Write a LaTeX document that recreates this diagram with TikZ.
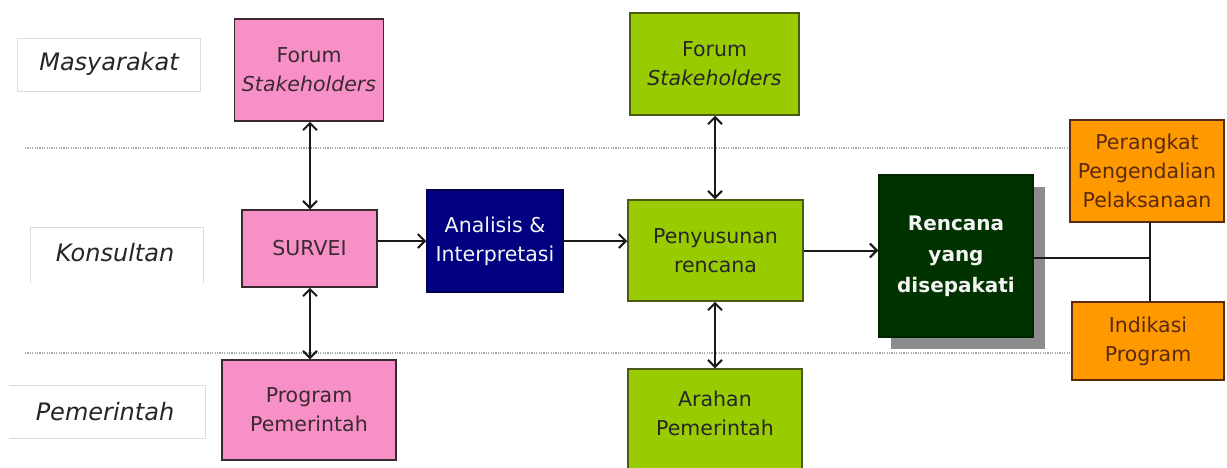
\documentclass[tikz,border=0pt]{standalone}
\usepackage{fontspec}
\setmainfont{DejaVu Sans}
\usetikzlibrary{arrows.meta}
\definecolor{pinkf}{HTML}{F890C8}
\definecolor{pinkd}{HTML}{3A2A30}
\definecolor{greenf}{HTML}{99CC00}
\definecolor{greend}{HTML}{4A5A10}
\definecolor{navyf}{HTML}{000080}
\definecolor{dkgreen}{HTML}{003300}
\definecolor{orangef}{HTML}{FF9900}
\definecolor{oranged}{HTML}{5A2A10}
\definecolor{lblline}{HTML}{DCDCDC}
\definecolor{dotline}{HTML}{A8A8A8}
\definecolor{arrowc}{HTML}{1A1A1A}
\begin{document}
\begin{tikzpicture}[x=1pt,y=-1pt,
  box/.style={draw, line width=1.5pt, align=center, inner sep=0pt,
    font=\fontsize{20.5}{29}\selectfont},
  pinkbox/.style={box, fill=pinkf, draw=pinkd, text=pinkd},
  greenbox/.style={box, fill=greenf, draw=greend, text=black!85},
  navybox/.style={box, fill=navyf, draw=navyf!60!black, text=white!92!gray},
  darkbox/.style={box, fill=dkgreen, draw=dkgreen!70!black, text=white!92!gray,
    font=\fontsize{20}{31}\selectfont\bfseries},
  orangebox/.style={box, fill=orangef, draw=oranged, text=oranged},
  lbl/.style={font=\fontsize{24}{28}\selectfont\itshape, text=black!85},
  lblline/.style={draw=lblline, line width=1pt},
  sep/.style={draw=dotline, line width=1.2pt, dash pattern=on 1.2pt off 1.2pt},
  conn/.style={draw=arrowc, line width=2pt},
  tip/.tip={Straight Barb[length=7pt,width=14pt,line width=2pt]},
  biarrow/.style={conn, tip-tip},
  arrow/.style={conn, -tip}
]
\useasboundingbox (0,0) rectangle (1227,467);
\fill[white] (0,0) rectangle (1227,467);

% separators
\draw[sep] (25,148) -- (1070,148);
\draw[sep] (25,353) -- (1070,353);

% lane labels
\draw[lblline] (17,38) rectangle (200,91);
\node[lbl] (lmas) at (109,64) {Masyarakat};
\draw[lblline] (30,283) -- (30,227) -- (203,227) -- (203,283);
\node[lbl] (lkon) at (115,253) {Konsultan};
\draw[lblline] (9,385) -- (205,385) -- (205,438) -- (9,438);
\node[lbl] (lpem) at (105,412) {Pemerintah};

% pink column
\node[pinkbox, minimum width=149, minimum height=102] (pforum) at (309,70) {Forum\\\textit{Stakeholders}};
\node[pinkbox, minimum width=135, minimum height=77] (survei) at (309.5,248.5) {SURVEI};
\node[pinkbox, minimum width=174, minimum height=100] (pprog) at (309,410) {Program\\Pemerintah};

% analysis
\node[navybox, minimum width=136, minimum height=102] (analisis) at (495,241) {Analisis \&\\Interpretasi};

% green column
\node[greenbox, minimum width=169, minimum height=102] (gforum) at (714.5,64) {Forum\\\textit{Stakeholders}};
\node[greenbox, minimum width=175, minimum height=101] (penyusun) at (715.5,250.5) {Penyusunan\\rencana};
\node[greenbox, minimum width=174, minimum height=101] (arahan) at (715,419.5) {};
\node[box, draw=none, text=black!85] (arahantxt) at (715,413) {Arahan\\Pemerintah};

% agreed plan with shadow
\fill[black!45] (891,187) rectangle (1045,349);
\node[darkbox, minimum width=154, minimum height=162] (rencana) at (956,256) {Rencana\\yang\\disepakati};

% orange outputs
\node[orangebox, minimum width=154, minimum height=102] (perangkat) at (1147,171) {Perangkat\\Pengendalian\\Pelaksanaan};
\node[orangebox, minimum width=152, minimum height=78] (indikasi) at (1148,341) {Indikasi\\Program};

% connectors
\coordinate (pcol) at (310,0);
\coordinate (gcol) at (715,0);
\draw[biarrow] (pcol |- pforum.south) -- (pcol |- survei.north);
\draw[biarrow] (pcol |- survei.south) -- (pcol |- pprog.north);
\draw[biarrow] (gcol |- gforum.south) -- (gcol |- penyusun.north);
\draw[biarrow] (gcol |- penyusun.south) -- (gcol |- arahan.north);
\draw[arrow] (survei.east |- analisis.west) -- (analisis.west);
\draw[arrow] (analisis.east) -- (penyusun.west |- analisis.east);
\draw[arrow] (penyusun.east) -- (rencana.west |- penyusun.east);
\coordinate (junc) at (1150,258);
\draw[conn] (rencana.east |- junc) -- (junc);
\draw[conn] (junc |- perangkat.south) -- (junc |- indikasi.north);
\end{tikzpicture}
\end{document}
